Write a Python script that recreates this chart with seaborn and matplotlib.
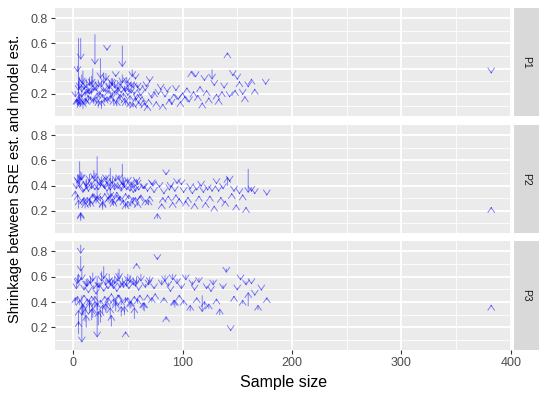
import numpy as np
import pandas as pd
import matplotlib
matplotlib.use("Agg")
import matplotlib.pyplot as plt
import seaborn as sns
from matplotlib.patches import Rectangle

panels = ["P1", "P2", "P3"]
x_ticks = [0, 100, 200, 300, 400]
y_ticks = [0.2, 0.4, 0.6, 0.8]

p1_n = [3, 4, 5, 5, 6, 7, 7, 8, 8, 9,
        10, 11, 12, 13, 14, 15, 16, 17, 18, 19,
        20, 21, 22, 23, 24, 25, 26, 27, 28, 29,
        30, 31, 32, 33, 34, 35, 36, 37, 38, 39,
        40, 41, 42, 43, 44, 45, 46, 47, 48, 49,
        50, 51, 52, 53, 54, 55, 56, 57, 58, 59,
        60, 62, 64, 66, 68, 70, 72, 74, 76, 78,
        80, 82, 84, 86, 88, 90, 92, 94, 96, 98,
        100, 102, 104, 106, 108, 110, 112, 114, 116, 118,
        120, 122, 124, 127, 129, 131, 133, 136, 138, 141,
        143, 146, 148, 150, 152, 155, 157, 160, 163, 166,
        176, 382,
        2, 4, 6, 6, 8, 9, 11, 12, 14, 15,
        17, 19, 21, 23, 25, 26, 28, 30, 31, 33,
        35, 36, 38, 40, 41, 43, 45, 47, 48, 50,
        52, 53, 55, 57, 59, 61, 63, 65, 67, 69]
p1_sre = [0.14, 0.42, 0.64, 0.30, 0.15, 0.64, 0.10, 0.35, 0.22, 0.08,
          0.28, 0.18, 0.12, 0.25, 0.20, 0.33, 0.15, 0.24, 0.40, 0.12,
          0.67, 0.28, 0.18, 0.09, 0.22, 0.48, 0.30, 0.17, 0.24, 0.13,
          0.36, 0.56, 0.20, 0.27, 0.16, 0.32, 0.21, 0.12, 0.29, 0.35,
          0.19, 0.25, 0.14, 0.30, 0.22, 0.58, 0.18, 0.26, 0.11, 0.33,
          0.20, 0.24, 0.15, 0.29, 0.39, 0.10, 0.21, 0.33, 0.16, 0.27,
          0.12, 0.19, 0.14, 0.23, 0.10, 0.31, 0.17, 0.21, 0.13, 0.20,
          0.24, 0.11, 0.18, 0.22, 0.15, 0.12, 0.19, 0.23, 0.16, 0.13,
          0.20, 0.17, 0.24, 0.14, 0.37, 0.21, 0.34, 0.18, 0.25, 0.12,
          0.31, 0.22, 0.16, 0.39, 0.27, 0.19, 0.15, 0.21, 0.25, 0.51,
          0.18, 0.35, 0.22, 0.32, 0.29, 0.20, 0.17, 0.26, 0.31, 0.23,
          0.28, 0.37,
          0.22, 0.09, 0.33, 0.12, 0.26, 0.38, 0.11, 0.30, 0.15, 0.21,
          0.34, 0.26, 0.13, 0.31, 0.19, 0.08, 0.36, 0.23, 0.14, 0.29,
          0.17, 0.32, 0.22, 0.10, 0.27, 0.18, 0.35, 0.13, 0.24, 0.30,
          0.09, 0.21, 0.28, 0.14, 0.19, 0.24, 0.17, 0.11, 0.27, 0.15]
p1_model = [0.16, 0.37, 0.10, 0.22, 0.20, 0.47, 0.16, 0.28, 0.17, 0.14,
            0.23, 0.22, 0.16, 0.20, 0.24, 0.26, 0.18, 0.20, 0.25, 0.17,
            0.43, 0.22, 0.21, 0.15, 0.19, 0.32, 0.25, 0.20, 0.21, 0.17,
            0.30, 0.54, 0.23, 0.23, 0.19, 0.27, 0.18, 0.16, 0.24, 0.33,
            0.22, 0.21, 0.18, 0.26, 0.20, 0.41, 0.21, 0.22, 0.15, 0.28,
            0.18, 0.21, 0.19, 0.25, 0.33, 0.13, 0.19, 0.31, 0.15, 0.24,
            0.14, 0.18, 0.15, 0.22, 0.11, 0.29, 0.16, 0.22, 0.14, 0.19,
            0.23, 0.12, 0.17, 0.21, 0.16, 0.11, 0.20, 0.22, 0.15, 0.14,
            0.21, 0.18, 0.25, 0.13, 0.38, 0.22, 0.33, 0.19, 0.26, 0.13,
            0.30, 0.23, 0.17, 0.31, 0.26, 0.20, 0.16, 0.22, 0.24, 0.53,
            0.17, 0.34, 0.23, 0.31, 0.30, 0.19, 0.18, 0.25, 0.32, 0.24,
            0.27, 0.36,
            0.17, 0.16, 0.24, 0.18, 0.21, 0.27, 0.17, 0.24, 0.19, 0.19,
            0.27, 0.22, 0.18, 0.25, 0.21, 0.15, 0.28, 0.21, 0.18, 0.24,
            0.19, 0.26, 0.20, 0.15, 0.23, 0.20, 0.28, 0.17, 0.21, 0.25,
            0.14, 0.20, 0.24, 0.17, 0.20, 0.22, 0.18, 0.13, 0.25, 0.16]

p2_n = [3, 4, 5, 6, 7, 7, 8, 9, 10, 11,
        12, 13, 14, 15, 16, 17, 18, 19, 20, 21,
        22, 23, 24, 25, 26, 27, 28, 29, 30, 31,
        32, 33, 34, 35, 36, 37, 38, 39, 40, 41,
        42, 43, 44, 45, 46, 47, 48, 49, 50, 51,
        52, 53, 54, 55, 56, 57, 58, 59, 60, 62,
        64, 66, 68, 70, 72, 74, 77, 79, 81, 83,
        85, 87, 89, 91, 93, 95, 97, 99, 101, 103,
        105, 107, 109, 111, 113, 115, 117, 119, 121, 123,
        125, 127, 129, 131, 133, 135, 137, 139, 141, 143,
        145, 147, 149, 152, 155, 158, 160, 163, 166, 177,
        382,
        2, 4, 5, 7, 9, 10, 12, 13, 15, 17,
        18, 20, 22, 24, 25, 27, 29, 31, 33, 34,
        36, 38, 40, 42, 44, 46, 48, 50, 53, 55,
        57, 59, 61, 65, 69, 73, 78, 82, 88, 94]
p2_sre = [0.40, 0.29, 0.47, 0.59, 0.12, 0.14, 0.50, 0.25, 0.37, 0.22,
          0.44, 0.27, 0.36, 0.49, 0.23, 0.40, 0.30, 0.52, 0.38, 0.26,
          0.63, 0.38, 0.45, 0.28, 0.47, 0.23, 0.41, 0.33, 0.48, 0.36,
          0.27, 0.42, 0.54, 0.31, 0.46, 0.24, 0.38, 0.47, 0.30, 0.39,
          0.48, 0.28, 0.37, 0.57, 0.25, 0.41, 0.22, 0.38, 0.46, 0.30,
          0.37, 0.43, 0.25, 0.35, 0.41, 0.29, 0.45, 0.24, 0.37, 0.31,
          0.39, 0.27, 0.36, 0.30, 0.42, 0.35, 0.14, 0.40, 0.24, 0.34,
          0.50, 0.31, 0.40, 0.26, 0.36, 0.43, 0.29, 0.42, 0.35, 0.27,
          0.30, 0.38, 0.34, 0.25, 0.37, 0.31, 0.40, 0.35, 0.26, 0.37,
          0.31, 0.36, 0.23, 0.42, 0.36, 0.30, 0.38, 0.27, 0.40, 0.44,
          0.33, 0.36, 0.24, 0.34, 0.32, 0.22, 0.53, 0.36, 0.34, 0.33,
          0.22,
          0.33, 0.48, 0.22, 0.51, 0.36, 0.26, 0.45, 0.39, 0.24, 0.43,
          0.32, 0.50, 0.29, 0.35, 0.44, 0.21, 0.40, 0.47, 0.30, 0.37,
          0.25, 0.42, 0.34, 0.28, 0.38, 0.46, 0.33, 0.23, 0.41, 0.27,
          0.36, 0.44, 0.30, 0.39, 0.25, 0.42, 0.34, 0.29, 0.37, 0.32]
p2_model = [0.37, 0.33, 0.41, 0.38, 0.18, 0.19, 0.44, 0.30, 0.35, 0.27,
            0.39, 0.31, 0.35, 0.43, 0.28, 0.37, 0.33, 0.45, 0.36, 0.30,
            0.29, 0.36, 0.40, 0.32, 0.42, 0.27, 0.38, 0.34, 0.44, 0.35,
            0.31, 0.39, 0.30, 0.34, 0.41, 0.28, 0.36, 0.43, 0.33, 0.37,
            0.44, 0.32, 0.35, 0.40, 0.29, 0.38, 0.26, 0.36, 0.42, 0.33,
            0.35, 0.40, 0.28, 0.34, 0.38, 0.31, 0.42, 0.27, 0.36, 0.33,
            0.37, 0.29, 0.35, 0.32, 0.40, 0.34, 0.18, 0.38, 0.26, 0.33,
            0.48, 0.32, 0.38, 0.27, 0.35, 0.41, 0.30, 0.40, 0.34, 0.28,
            0.31, 0.37, 0.33, 0.26, 0.36, 0.32, 0.39, 0.34, 0.27, 0.36,
            0.32, 0.35, 0.24, 0.41, 0.35, 0.31, 0.37, 0.28, 0.47, 0.43,
            0.34, 0.35, 0.25, 0.33, 0.33, 0.23, 0.34, 0.35, 0.33, 0.32,
            0.23,
            0.36, 0.42, 0.29, 0.44, 0.34, 0.31, 0.39, 0.37, 0.30, 0.40,
            0.34, 0.43, 0.32, 0.35, 0.39, 0.28, 0.37, 0.41, 0.32, 0.36,
            0.30, 0.38, 0.35, 0.31, 0.37, 0.40, 0.34, 0.28, 0.38, 0.31,
            0.35, 0.40, 0.32, 0.37, 0.29, 0.39, 0.34, 0.31, 0.36, 0.33]

p3_n = [3, 4, 5, 5, 6, 7, 7, 8, 9, 10,
        11, 12, 13, 14, 15, 16, 17, 18, 19, 20,
        21, 22, 23, 24, 25, 26, 27, 28, 29, 30,
        31, 32, 33, 34, 35, 36, 37, 38, 39, 40,
        41, 42, 43, 44, 45, 46, 47, 48, 49, 50,
        51, 52, 53, 54, 55, 56, 57, 58, 59, 60,
        62, 64, 66, 68, 70, 72, 74, 77, 79, 81,
        83, 85, 87, 89, 91, 93, 95, 97, 99, 101,
        103, 105, 107, 109, 111, 113, 115, 118, 120, 122,
        124, 126, 128, 131, 134, 137, 140, 144, 147, 150,
        153, 155, 158, 160, 163, 166, 169, 172, 177, 382,
        2, 4, 5, 6, 8, 9, 10, 12, 13, 15,
        17, 18, 20, 22, 23, 25, 27, 28, 30, 32,
        34, 35, 37, 39, 41, 42, 44, 46, 48, 50,
        52, 54, 56, 58, 61, 65, 69, 75, 84, 92]
p3_sre = [0.55, 0.42, 0.15, 0.62, 0.38, 0.85, 0.76, 0.45, 0.30, 0.52,
          0.25, 0.58, 0.40, 0.48, 0.33, 0.60, 0.44, 0.28, 0.53, 0.36,
          0.47, 0.60, 0.22, 0.55, 0.39, 0.64, 0.31, 0.50, 0.43, 0.58,
          0.35, 0.52, 0.62, 0.27, 0.46, 0.56, 0.40, 0.60, 0.33, 0.49,
          0.63, 0.44, 0.54, 0.38, 0.59, 0.47, 0.30, 0.15, 0.57, 0.42,
          0.52, 0.61, 0.36, 0.48, 0.58, 0.43, 0.55, 0.69, 0.39, 0.50,
          0.62, 0.34, 0.54, 0.45, 0.60, 0.40, 0.52, 0.75, 0.47, 0.57,
          0.41, 0.26, 0.55, 0.49, 0.62, 0.36, 0.58, 0.44, 0.53, 0.39,
          0.61, 0.47, 0.33, 0.56, 0.50, 0.42, 0.59, 0.45, 0.38, 0.52,
          0.35, 0.49, 0.57, 0.41, 0.30, 0.53, 0.66, 0.18, 0.44, 0.51,
          0.59, 0.39, 0.56, 0.37, 0.55, 0.46, 0.34, 0.50, 0.42, 0.37,
          0.38, 0.61, 0.22, 0.48, 0.66, 0.30, 0.44, 0.20, 0.57, 0.36,
          0.26, 0.63, 0.42, 0.34, 0.55, 0.24, 0.47, 0.68, 0.32, 0.41,
          0.58, 0.21, 0.52, 0.37, 0.45, 0.66, 0.29, 0.54, 0.40, 0.62,
          0.35, 0.48, 0.27, 0.60, 0.44, 0.33, 0.57, 0.46, 0.61, 0.38]
p3_model = [0.50, 0.45, 0.25, 0.55, 0.42, 0.78, 0.64, 0.08, 0.38, 0.49,
            0.35, 0.52, 0.43, 0.47, 0.40, 0.54, 0.45, 0.36, 0.50, 0.41,
            0.46, 0.12, 0.33, 0.51, 0.42, 0.56, 0.38, 0.48, 0.45, 0.53,
            0.41, 0.50, 0.55, 0.36, 0.47, 0.52, 0.43, 0.54, 0.40, 0.48,
            0.56, 0.46, 0.51, 0.42, 0.53, 0.47, 0.37, 0.17, 0.52, 0.44,
            0.50, 0.55, 0.41, 0.48, 0.53, 0.45, 0.52, 0.71, 0.43, 0.49,
            0.56, 0.40, 0.51, 0.46, 0.55, 0.44, 0.50, 0.73, 0.47, 0.53,
            0.44, 0.29, 0.52, 0.48, 0.57, 0.42, 0.54, 0.46, 0.50, 0.42,
            0.57, 0.47, 0.38, 0.53, 0.49, 0.44, 0.55, 0.32, 0.41, 0.50,
            0.39, 0.48, 0.53, 0.43, 0.35, 0.50, 0.63, 0.17, 0.45, 0.49,
            0.57, 0.42, 0.53, 0.48, 0.54, 0.45, 0.38, 0.49, 0.44, 0.38,
            0.44, 0.54, 0.34, 0.48, 0.57, 0.39, 0.46, 0.30, 0.52, 0.42,
            0.35, 0.56, 0.45, 0.40, 0.51, 0.34, 0.47, 0.58, 0.39, 0.44,
            0.53, 0.30, 0.50, 0.42, 0.46, 0.58, 0.37, 0.51, 0.44, 0.56,
            0.41, 0.48, 0.36, 0.54, 0.46, 0.40, 0.53, 0.47, 0.56, 0.42]

frames = []
for name, ns, s, m in [("P1", p1_n, p1_sre, p1_model),
                       ("P2", p2_n, p2_sre, p2_model),
                       ("P3", p3_n, p3_sre, p3_model)]:
    frames.append(pd.DataFrame({"panel": name, "n": ns, "sre": s, "model": m}))
df = pd.concat(frames, ignore_index=True)

sns.set_theme(style="darkgrid", rc={
    "axes.facecolor": "#EBEBEB",
    "figure.facecolor": "white",
    "axes.axisbelow": True,
})
plt.rcParams["font.family"] = ["Liberation Sans", "DejaVu Sans"]

g = sns.FacetGrid(df, row="panel", row_order=panels, sharex=True, sharey=True,
                  height=1.33, aspect=4.13, despine=False)


def draw_arrows(data, color=None, **kw):
    ax = plt.gca()
    for _, r in data.iterrows():
        ax.annotate("", xy=(r["n"], r["model"]), xytext=(r["n"], r["sre"]),
                    arrowprops=dict(arrowstyle="->,head_length=0.35,head_width=0.24",
                                    color="#0000FF", alpha=0.5, lw=0.65,
                                    shrinkA=0, shrinkB=0, mutation_scale=10))


g.map_dataframe(draw_arrows)
g.set_titles("")
g.set_axis_labels("", "")

fig = g.figure
fig.set_size_inches(5.5, 3.99)
W, H = 550.0, 399.0
tops = [8, 125, 241]
bots = [116, 233, 350]
left_px, right_px = 55, 512

for ax, name, t, b in zip(g.axes.flat, panels, tops, bots):
    ax.set_position([left_px / W, 1 - b / H, (right_px - left_px) / W, (b - t) / H])
    ax.set_xlim(-16.5, 401)
    ax.set_ylim(0.022, 0.882)
    ax.set_xticks(x_ticks)
    ax.set_xticks([50, 150, 250, 350], minor=True)
    ax.set_yticks(y_ticks)
    ax.set_yticks([0.1, 0.3, 0.5, 0.7], minor=True)
    ax.set_yticklabels([f"{v:.1f}" for v in y_ticks])
    ax.grid(which="major", color="white", lw=1.3)
    ax.grid(which="minor", color="white", lw=0.6)
    ax.tick_params(which="minor", length=0)
    ax.tick_params(which="major", length=3, width=0.8, color="#333333",
                   labelcolor="#4D4D4D", labelsize=9, pad=2,
                   bottom=True, left=True)
    for sp in ax.spines.values():
        sp.set_visible(False)
    pw = right_px - left_px
    sx0 = 1 + 1.5 / pw
    sw = 25 / pw
    ax.add_patch(Rectangle((sx0, 0), sw, 1, transform=ax.transAxes,
                           facecolor="#D9D9D9", edgecolor="none", clip_on=False))
    ax.text(sx0 + sw / 2, 0.5, name, transform=ax.transAxes, rotation=270,
            ha="center", va="center", fontsize=7.5, color="#1A1A1A")

for ax in list(g.axes.flat)[:-1]:
    ax.tick_params(axis="x", labelbottom=False, length=0)

fig.text((left_px + right_px) / 2 / W, 1 - 383 / H, "Sample size",
         ha="center", va="center", fontsize=11.5, color="black")
fig.text(15 / W, 1 - 179 / H, "Shrinkage between SRE est. and model est.",
         ha="center", va="center", rotation=90, fontsize=10.5, color="black")

fig.savefig("out.png", dpi=100)
